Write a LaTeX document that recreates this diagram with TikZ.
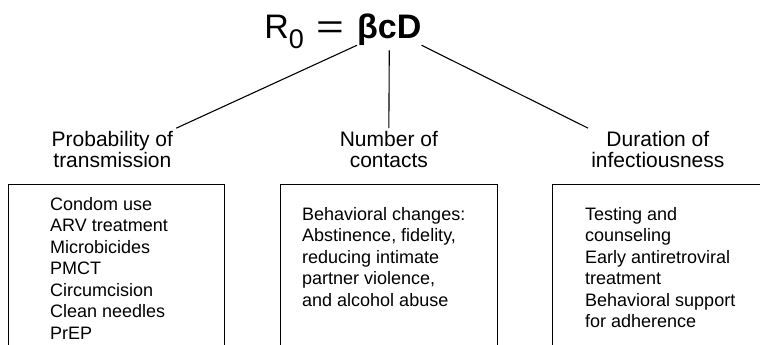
\documentclass[tikz,border=0pt]{standalone}
\usepackage{fontspec}
\usepackage{graphicx}
\setmainfont{Liberation Sans}
\usetikzlibrary{positioning}

\begin{document}
\begin{tikzpicture}[x=1pt, y=-1pt,
    boxStyle/.style={draw, line width=1.2pt, minimum width=216.5pt, minimum height=200pt, anchor=north west, inner sep=0pt},
    headStyle/.style={align=center, inner sep=3pt, font=\fontsize{21}{21}\selectfont},
    listStyle/.style={align=left, inner sep=0pt, font=\fontsize{18}{21.5}\selectfont},
    lineStyle/.style={line width=1.1pt}]
  \useasboundingbox (0,0) rectangle (760,345);
  \clip (0,0) rectangle (760,345);

  % formula
  \node[inner sep=0pt, anchor=base west, font=\fontsize{34}{34}\selectfont\bfseries](bcd) at (357,38) {βcD};
  \node[inner sep=0pt, base left=13pt of bcd, font=\fontsize{34}{34}\selectfont](eq) {R\raisebox{-10pt}{\fontsize{27}{27}\selectfont 0}\hspace{12pt}\scalebox{1.4}[1]{=}};

  % boxes, open at the bottom
  \node[boxStyle](lbox) at (7.5,184) {};
  \node[boxStyle](mbox) at (280,184) {};
  \node[boxStyle](rbox) at (552,184) {};

  % headings
  \node[headStyle, above=13pt of lbox, xshift=-4pt](prob) {Probability of\\transmission};
  \node[headStyle, above=13pt of mbox](num) {Number of\\contacts};
  \node[headStyle, above=13pt of rbox, xshift=-3pt](dur) {Duration of\\infectiousness};

  % lists
  \node[listStyle, below right=13pt and 42.5pt of lbox.north west](plist) {Condom use\\ARV treatment\\Microbicides\\PMCT\\Circumcision\\Clean needles\\PrEP};
  \node[listStyle, below right=23pt and 22pt of mbox.north west](nlist) {Behavioral changes:\\Abstinence, fidelity,\\reducing intimate\\partner violence,\\and alcohol abuse};
  \node[listStyle, below right=23pt and 33pt of rbox.north west](dlist) {Testing and\\counseling\\Early antiretroviral\\treatment\\Behavioral support\\for adherence};

  \draw[lineStyle] (bcd.south west) -- (prob.north east);
  \draw[lineStyle, shorten <=5pt] (bcd.south) -- (num.north);
  \draw[lineStyle] (bcd.south east) -- (dur.north west);
\end{tikzpicture}
\end{document}
